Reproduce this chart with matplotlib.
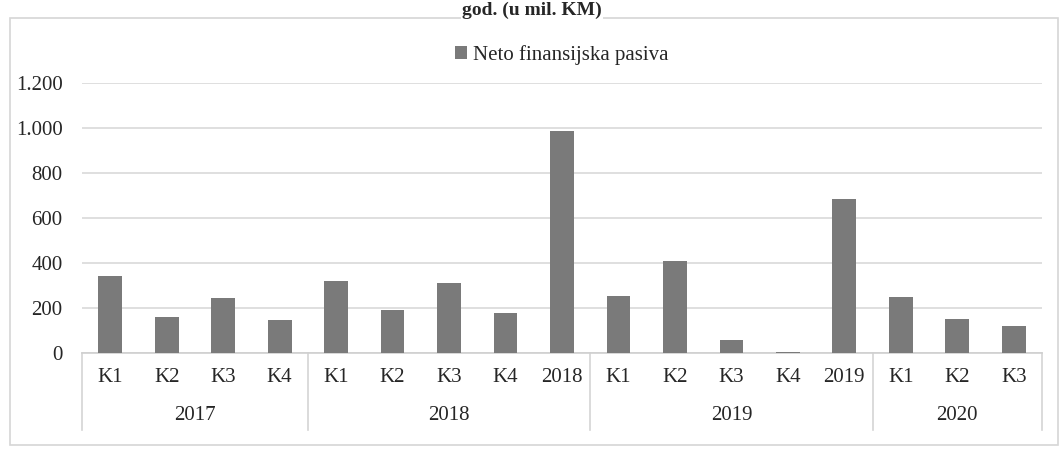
"""Neto finansijska pasiva po kvartalima, 2017-2020 (u mil. KM)."""
import matplotlib
matplotlib.use("Agg")
import matplotlib.pyplot as plt
from matplotlib.patches import Patch, Rectangle
from matplotlib.lines import Line2D
from matplotlib.ticker import FuncFormatter

# data
quarters = ["K1", "K2", "K3", "K4",
            "K1", "K2", "K3", "K4", "2018",
            "K1", "K2", "K3", "K4", "2019",
            "K1", "K2", "K3"]
years = ["2017", "2018", "2019", "2020"]
group_sizes = [4, 5, 5, 3]
values = [342, 160, 245, 145,
          322, 192, 310, 178, 987,
          255, 410, 58, 6, 685,
          250, 152, 118]
series_name = "Neto finansijska pasiva"
title = "god. (u mil. KM)"

plt.rcParams["font.family"] = ["Liberation Serif", "DejaVu Serif"]
BAR = "#7a7a7a"
GRID = "#d9d9d9"
TXT = "#262626"
FS = 15

fig = plt.figure(figsize=(10.64, 4.5), dpi=100)
W, H = 1064, 450
ax_l, ax_r, ax_top, ax_bot = 82, 1042, 83, 353
ax = fig.add_axes([ax_l / W, 1 - ax_bot / H, (ax_r - ax_l) / W, (ax_bot - ax_top) / H])
ax_h = ax_bot - ax_top

x = list(range(len(quarters)))
ax.bar(x, values, width=0.42, color=BAR, zorder=3)
ax.set_xlim(-0.5, len(quarters) - 0.5)
ax.set_ylim(0, 1200)
ax.set_yticks(range(0, 1201, 200))
ax.yaxis.set_major_formatter(FuncFormatter(lambda v, p: f"{int(v):,}".replace(",", ".")))
ax.tick_params(axis="y", length=0, pad=14, labelsize=FS, labelcolor=TXT)
ax.set_xticks([])
ax.grid(axis="y", color=GRID, linewidth=1.2, zorder=0)
for s in ["top", "right", "left"]:
    ax.spines[s].set_visible(False)
ax.spines["bottom"].set_color("#cfcfcf")
ax.spines["bottom"].set_linewidth(1.2)

# two-level category axis
tr = ax.get_xaxis_transform()
for i, q in enumerate(quarters):
    ax.text(i, -25 / ax_h, q, transform=tr, ha="center", va="center",
            fontsize=FS, color=TXT)
start = 0
edges = [-0.5]
for yr, n in zip(years, group_sizes):
    mid = start + (n - 1) / 2
    ax.text(mid, -62 / ax_h, yr, transform=tr, ha="center", va="center",
            fontsize=FS, color=TXT)
    start += n
    edges.append(start - 0.5)
for e in edges:
    ax.add_line(Line2D([e, e], [0, -77 / ax_h], transform=tr, color="#d4d4d4",
                       linewidth=1.2, clip_on=False))

# legend above plot
ax.legend(handles=[Patch(facecolor=BAR, label=series_name)], loc="center",
          bbox_to_anchor=(0.5, 1 + 28 / ax_h), frameon=False, fontsize=FS,
          handlelength=0.55, handleheight=0.55, handletextpad=0.3,
          labelcolor=TXT)

# chart frame and title strip from the scan
fig.patches.append(Rectangle((10 / W, 5 / H), 1048 / W, 427 / H, transform=fig.transFigure,
                             fill=False, edgecolor="#d6d6d6", linewidth=1.2))
fig.text(0.5, 1 - 10 / H, title, ha="center", va="center", fontsize=14,
         fontweight="bold", color=TXT,
         bbox=dict(facecolor="white", edgecolor="none", pad=1))

fig.savefig("out.png", dpi=100, facecolor="white")
